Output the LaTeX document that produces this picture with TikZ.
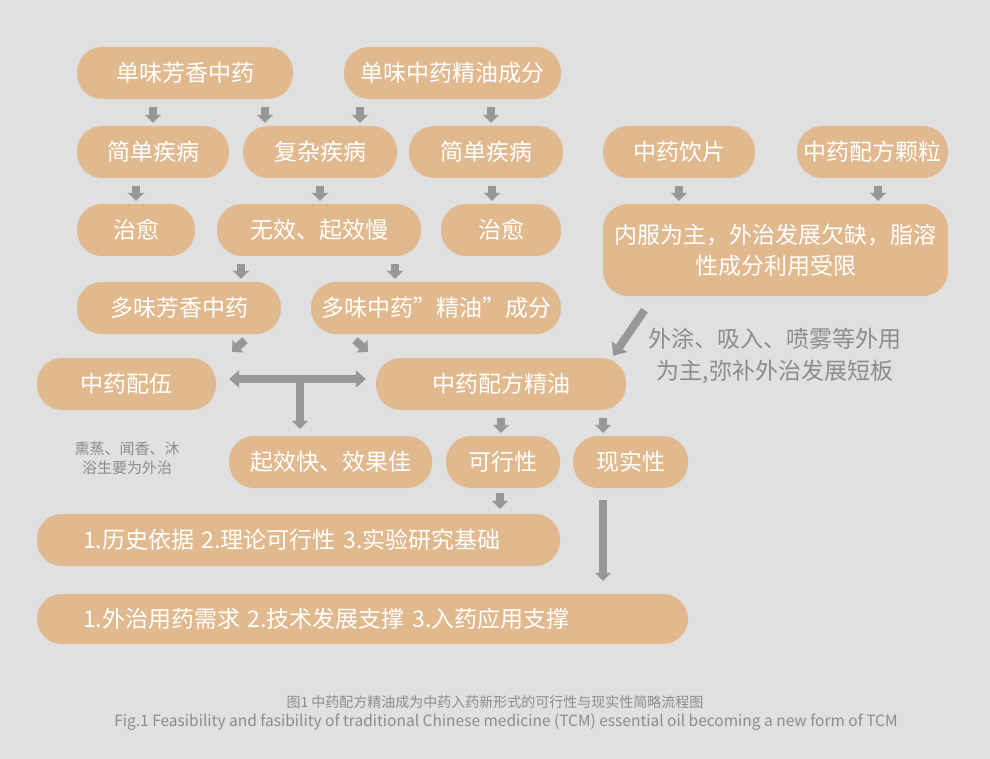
\documentclass[tikz,border=0pt]{standalone}
\usepackage{fontspec}
\setmainfont{Noto Sans CJK SC}
\usetikzlibrary{arrows.meta, calc}

\definecolor{bgc}{HTML}{E0E0E0}
\definecolor{boxc}{HTML}{E0B98E}
\definecolor{arrc}{HTML}{979797}
\definecolor{txtc}{HTML}{8C8C8C}

\tikzset{
  pill/.style={rectangle, fill=boxc, text=white, rounded corners=25pt, minimum height=52pt, inner sep=0pt, font=\fontsize{23}{31}\selectfont},
  arr/.style={arrc, line width=8pt, -{Triangle[width=16pt,length=8pt]}},
  stub/.style={arr, shorten <=8pt, shorten >=3pt},
  bigarr/.style={arrc, line width=8pt, -{Triangle[width=18pt,length=11pt]}},
  darr/.style={arrc, line width=8pt, {Triangle[width=17pt,length=10pt]}-{Triangle[width=17pt,length=10pt]}},
}

\begin{document}
\begin{tikzpicture}[x=1pt, y=-1pt]
\fill[bgc] (0,0) rectangle (990,759);

% row 1
\node[pill, minimum width=216pt] (dfx) at (185,73) {单味芳香中药};
\node[pill, minimum width=217pt] (djy) at (452.5,73) {单味中药精油成分};
% row 2
\node[pill, minimum width=152pt] (jd1) at (153,152) {简单疾病};
\node[pill, minimum width=154pt] (fz) at (320,152) {复杂疾病};
\node[pill, minimum width=154pt] (jd2) at (486,152) {简单疾病};
\node[pill, minimum width=152pt] (yp) at (679,152) {中药饮片};
\node[pill, minimum width=151pt] (kl) at (872.5,152) {中药配方颗粒};
% row 3
\node[pill, minimum width=118pt] (zy1) at (136,230) {治愈};
\node[pill, minimum width=204pt] (wx) at (319,230) {无效、起效慢};
\node[pill, minimum width=120pt] (zy2) at (501,230) {治愈};
\node[pill, minimum width=345pt, minimum height=92pt, align=center] (nf) at (775.5,250) {内服为主，外治发展欠缺，脂溶\\性成分利用受限};
% row 4
\node[pill, minimum width=204pt] (dfx2) at (179,308) {多味芳香中药};
\node[pill, minimum width=250pt] (djy2) at (436,308) {多味中药”精油”成分};
% row 5
\node[pill, minimum width=179pt] (py) at (126.5,384) {中药配伍};
\node[pill, minimum width=250pt] (jy) at (501,384) {中药配方精油};
% row 6
\node[pill, minimum width=203pt] (qx) at (330.5,462) {起效快、效果佳};
\node[pill, minimum width=114pt] (kx) at (503,462) {可行性};
\node[pill, minimum width=115pt] (xs) at (630.5,462) {现实性};
% rows 7, 8
\node[pill, minimum width=523pt, text width=431pt, align=left] (yj) at (298.5,540) {1.历史依据 2.理论可行性 3.实验研究基础};
\node[pill, minimum width=651pt, minimum height=50pt, text width=559pt, align=left] (zc) at (362.5,619) {1.外治用药需求 2.技术发展支撑 3.入药应用支撑};

% side notes
\node[text=txtc, font=\fontsize{15}{19}\selectfont, align=center] (xz) at (127,458) {熏蒸、闻香、沐\\浴生要为外治};
\node[text=txtc, font=\fontsize{23}{32}\selectfont, align=center] (wt) at (775,356) {外涂、吸入、喷雾等外用\\为主,弥补外治发展短板};

% caption
\node[text=txtc, font=\fontsize{14}{17}\selectfont] (cap1) at (495,702) {图1 中药配方精油成为中药入药新形式的可行性与现实性简略流程图};
\node[text=txtc, font=\fontsize{15.5}{18}\selectfont] (cap2) at (506,722) {Fig.1 Feasibility and fasibility of traditional Chinese medicine (TCM) essential oil becoming a new form of TCM};

% arrows row 1 -> row 2
\draw[stub] (dfx.south -| jd1) -- (jd1.north);
\draw[stub] ([xshift=80pt]dfx.south) -- ([xshift=80pt]dfx.south |- fz.north);
\draw[stub] ([xshift=-92.5pt]djy.south) -- ([xshift=-92.5pt]djy.south |- fz.north);
\draw[stub] ([xshift=38.5pt]djy.south) -- ([xshift=38.5pt]djy.south |- jd2.north);
% row 2 -> row 3
\draw[stub] (jd1.south -| zy1) -- (zy1.north);
\draw[stub] (fz.south) -- (fz.south |- wx.north);
\draw[stub] ([xshift=6pt]jd2.south) -- ([xshift=6pt]jd2.south |- zy2.north);
\draw[stub] (yp.south) -- (yp.south |- nf.north);
\draw[stub] ([xshift=5.5pt]kl.south) -- ([xshift=5.5pt]kl.south |- nf.north);
% row 3 -> row 4
\draw[stub] ([xshift=-78pt]wx.south) -- ([xshift=-78pt]wx.south |- dfx2.north);
\draw[stub] ([xshift=76pt]wx.south) -- ([xshift=76pt]wx.south |- djy2.north);
% row 4 -> row 5
\draw[arr] ($(dfx2.south)+(66,6)$) -- ($(py.north)+(105.5,-6)$);
\draw[arr] ($(djy2.south)+(-81,6)$) -- ($(jy.north)+(-133,-6)$);
\draw[bigarr] ($(nf.south)+(-131,14)$) -- ($(jy.north east)+(-13,-2)$);
% T connector
\draw[darr] ($(py.east)+(13,-5)$) -- ($(jy.west)+(-10,-5)$);
\draw[arr] ($(qx.north)+(-30.5,-57)$) -- ($(qx.north)+(-30.5,-7)$);
% row 5 -> row 6 -> rows 7, 8
\coordinate (cx) at ($(jy.south)+(102,0)$);
\coordinate (kxs) at ($(kx.south)+(-3,0)$);
\draw[stub] (jy.south) -- (jy.south |- kx.north);
\draw[stub] (cx) -- (cx |- xs.north);
\draw[arr, shorten <=5pt, shorten >=5pt] (kxs) -- (kxs |- yj.north);
\draw[arr, shorten <=12pt, shorten >=13pt] (cx |- xs.south) -- (cx |- zc.north);

\end{tikzpicture}
\end{document}
